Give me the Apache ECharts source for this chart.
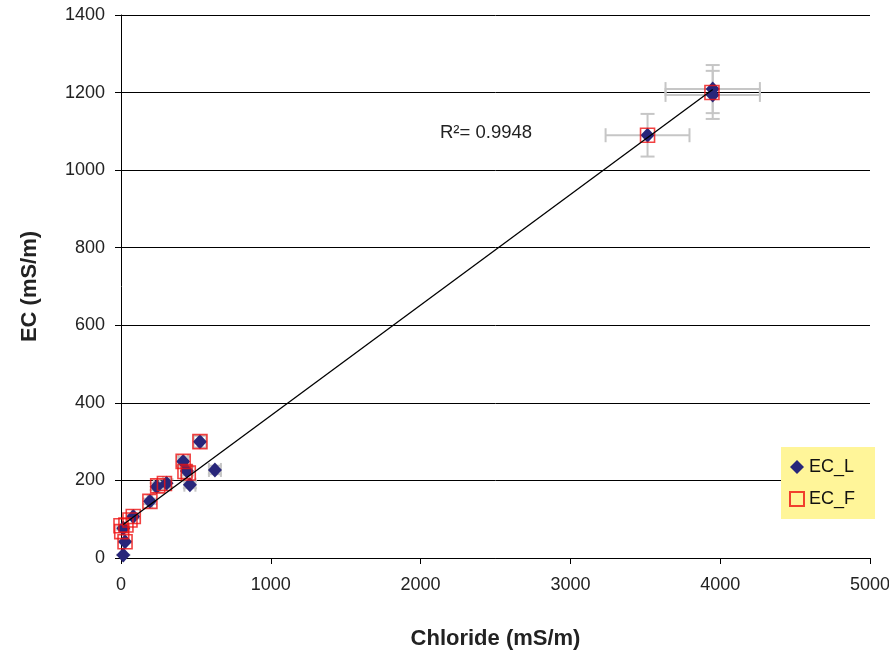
<!DOCTYPE html>
<html><head><meta charset="utf-8">
<script src="https://cdn.jsdelivr.net/npm/echarts@6/dist/echarts.min.js"></script>
<style>html,body{margin:0;padding:0;background:#fff}#c{width:889px;height:651px}</style>
</head><body><div id="c"></div>
<script>
// EC_L (laboratory) values with error bars
const ecL_x    = [15, 27, 15, 82, 193, 238, 304, 415, 440, 460, 527, 627, 3515, 3950, 3950];
const ecL_y    = [8, 42, 77, 107, 146, 184, 193, 249, 224, 189, 300, 227, 1090, 1209, 1194];
const ecL_xErr = [1, 2, 1, 7, 15, 19, 24, 33, 35, 37, 42, 40, 280, 315, 315];
const ecL_yErr = [0.4, 2, 4, 5, 7, 9, 10, 12, 11, 9, 15, 11, 55, 62, 62];
// EC_F (field) values
const ecF_x = [0, 33, 5, 27, 60, 82, 193, 245, 290, 415, 427, 449, 527, 3515, 3945];
const ecF_y = [83, 85, 68, 42, 98, 107, 146, 186, 192, 249, 223, 219, 300, 1090, 1200];
// trendline
const trendSlope = 0.285;
const trendIntercept = 82;
const r2Text = 'R\u00B2= 0.9948';
const xTitle = 'Chloride (mS/m)';
const yTitle = 'EC (mS/m)';

const FONT = '"Liberation Sans", Arial, sans-serif';
const ecLData = ecL_x.map((x, i) => [x, ecL_y[i]]);
const ecFData = ecF_x.map((x, i) => [x, ecF_y[i]]);
const errData = ecL_x.map((x, i) => [x, ecL_y[i], ecL_xErr[i], ecL_yErr[i]]);
const xMinT = Math.min(...ecL_x), xMaxT = Math.max(...ecL_x);
const trendData = [[xMinT, trendIntercept + trendSlope * xMinT], [xMaxT, trendIntercept + trendSlope * xMaxT]];

const chart = echarts.init(document.getElementById('c'));
chart.setOption({
  backgroundColor: '#fff',
  animation: false,
  grid: {left: 121, right: 19, top: 15, bottom: 93, containLabel: false, outerBoundsMode: 'none'},
  xAxis: {
    type: 'value', min: 0, max: 5000, interval: 1000,
    name: xTitle, nameLocation: 'middle', nameGap: 70,
    nameTextStyle: {fontFamily: FONT, fontSize: 22, fontWeight: 'bold', color: '#222'},
    axisLine: {onZero: false, lineStyle: {color: '#000', width: 1}},
    axisTick: {show: true, length: 6, lineStyle: {color: '#000'}},
    axisLabel: {fontFamily: FONT, fontSize: 18, color: '#222', margin: 18, formatter: v => String(v)},
    splitLine: {show: false}
  },
  yAxis: {
    type: 'value', min: 0, max: 1400, interval: 200,
    name: yTitle, nameLocation: 'middle', nameGap: 80, nameRotate: 90,
    nameTextStyle: {fontFamily: FONT, fontSize: 22, fontWeight: 'bold', color: '#222'},
    axisLine: {show: true, onZero: false, lineStyle: {color: '#000', width: 1}},
    axisTick: {show: true, length: 6, lineStyle: {color: '#000'}},
    axisLabel: {fontFamily: FONT, fontSize: 18, color: '#222', margin: 16, formatter: v => String(v)},
    splitLine: {show: true, lineStyle: {color: '#000', width: 1}}
  },
  legend: {
    data: [
      {name: 'EC_L', icon: 'diamond'},
      {name: 'EC_F', icon: 'rect'}
    ],
    orient: 'vertical', left: 781, top: 447,
    backgroundColor: '#fff599', padding: [11, 20, 11, 8],
    itemGap: 14, itemWidth: 14, itemHeight: 14,
    textStyle: {fontFamily: FONT, fontSize: 18, color: '#111'}
  },
  graphic: [{
    type: 'text', left: 440, top: 123,
    style: {text: r2Text, font: '18.5px ' + FONT, fill: '#222'}
  }],
  series: [
    {
      type: 'custom', name: 'err', z: 1, silent: true,
      data: errData,
      renderItem: function (params, api) {
        const x = api.value(0), y = api.value(1), ex = api.value(2), ey = api.value(3);
        const l = api.coord([x - ex, y]), r = api.coord([x + ex, y]);
        const t = api.coord([x, y + ey]), b = api.coord([x, y - ey]);
        const c = 7;
        const st = {stroke: '#c6c6c6', lineWidth: 2};
        return {type: 'group', children: [
          {type: 'line', shape: {x1: l[0], y1: l[1], x2: r[0], y2: r[1]}, style: st},
          {type: 'line', shape: {x1: l[0], y1: l[1] - c, x2: l[0], y2: l[1] + c}, style: st},
          {type: 'line', shape: {x1: r[0], y1: r[1] - c, x2: r[0], y2: r[1] + c}, style: st},
          {type: 'line', shape: {x1: t[0], y1: t[1], x2: b[0], y2: b[1]}, style: st},
          {type: 'line', shape: {x1: t[0] - c, y1: t[1], x2: t[0] + c, y2: t[1]}, style: st},
          {type: 'line', shape: {x1: b[0] - c, y1: b[1], x2: b[0] + c, y2: b[1]}, style: st}
        ]};
      }
    },
    {
      type: 'scatter', name: 'EC_L', z: 3,
      symbol: 'diamond', symbolSize: [14, 15],
      itemStyle: {color: '#28267a', opacity: 1},
      data: ecLData
    },
    {
      type: 'scatter', name: 'EC_F', z: 4,
      symbol: 'rect', symbolSize: 14,
      itemStyle: {color: 'rgba(0,0,0,0)', borderColor: '#ee1111', borderWidth: 1.6},
      data: ecFData
    },
    {
      type: 'line', name: 'trend', z: 5, silent: true,
      showSymbol: false, symbol: 'none',
      lineStyle: {color: '#000', width: 1.3},
      data: trendData
    }
  ]
});
</script>
</body></html>
